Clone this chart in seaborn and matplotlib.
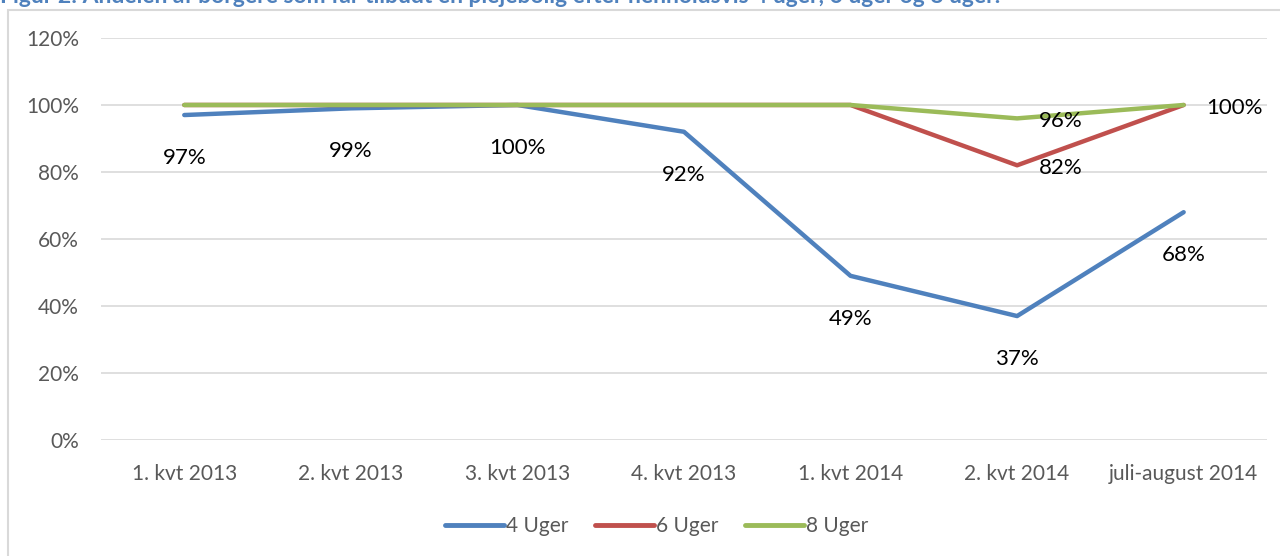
import pandas as pd
import matplotlib.pyplot as plt
import matplotlib.patches as mpatches
import seaborn as sns

categories = ["1. kvt 2013", "2. kvt 2013", "3. kvt 2013", "4. kvt 2013",
              "1. kvt 2014", "2. kvt 2014", "juli-august 2014"]
uger_4 = [0.97, 0.99, 1.00, 0.92, 0.49, 0.37, 0.68]
uger_6 = [1.00, 1.00, 1.00, 1.00, 1.00, 0.82, 1.00]
uger_8 = [1.00, 1.00, 1.00, 1.00, 1.00, 0.96, 1.00]
series_names = ["4 Uger", "6 Uger", "8 Uger"]
yticks = [0, 0.2, 0.4, 0.6, 0.8, 1.0, 1.2]
title = "Figur 2: Andelen af borgere som får tilbudt en plejebolig efter henholdsvis 4 uger, 6 uger og 8 uger."

# which points carry a data label
labels_4 = [0, 1, 2, 3, 4, 5, 6]
labels_6 = [5]
labels_8 = [5, 6]

colors = {"4 Uger": "#4F81BD", "6 Uger": "#C0504D", "8 Uger": "#9BBB59"}

df = pd.DataFrame({
    "kvartal": categories * 3,
    "andel": uger_4 + uger_6 + uger_8,
    "serie": [s for s in series_names for _ in categories],
})

sns.set_style("white")
plt.rcParams["font.family"] = ["Lato", "DejaVu Sans"]

fig = plt.figure(figsize=(12.8, 5.56), dpi=100)
ax = fig.add_axes([0.0789, 0.2086, 0.9109, 0.7231])

sns.lineplot(data=df, x="kvartal", y="andel", hue="serie", palette=colors,
             linewidth=3.2, ax=ax, legend=False, sort=False)
for line in ax.lines:
    line.set_solid_capstyle("round")

ax.set_xlim(-0.5, len(categories) - 0.5)
ax.set_ylim(0, 1.2)
ax.set_yticks(yticks)
ax.set_yticklabels([f"{int(round(t * 100))}%" for t in yticks])
ax.yaxis.grid(True, color="#D9D9D9", linewidth=1.2)
ax.set_axisbelow(True)
ax.set_xlabel("")
ax.set_ylabel("")
for s in ax.spines.values():
    s.set_visible(False)
ax.tick_params(axis="y", length=0, pad=16, labelsize=15, labelcolor="#595959")
ax.tick_params(axis="x", length=0, pad=17, labelsize=15, labelcolor="#595959")

for i in labels_4:
    ax.annotate(f"{round(uger_4[i] * 100)}%", (i, uger_4[i]), xytext=(0, -31),
                textcoords="offset points", ha="center", va="center",
                fontsize=16, color="black")
for vals, idx in ((uger_6, labels_6), (uger_8, labels_8)):
    for i in idx:
        ax.annotate(f"{round(vals[i] * 100)}%", (i, vals[i]), xytext=(16, -2),
                    textcoords="offset points", ha="left", va="center",
                    fontsize=16, color="black")

handles = [plt.Line2D([], [], color=colors[s], linewidth=3.5, solid_capstyle="round")
           for s in series_names]
fig.legend(handles, series_names, loc="center", bbox_to_anchor=(0.513, 0.054),
           ncol=3, frameon=False, fontsize=15, handlelength=2.8, handletextpad=0.1,
           columnspacing=1.3, labelcolor="#595959")

# chart frame and clipped title
fig.patches.append(mpatches.Rectangle((8 / 1280, -0.1), 1.2, 1 - 10 / 556 + 0.1,
                                      transform=fig.transFigure, fill=False,
                                      edgecolor="#D9D9D9", linewidth=1.5))
fig.text(0.0, 1.0 + 4 / 556, title, ha="left", va="center", fontsize=16.5,
         fontweight="bold", color="#4F81BD")

fig.savefig("out.png", dpi=100)
